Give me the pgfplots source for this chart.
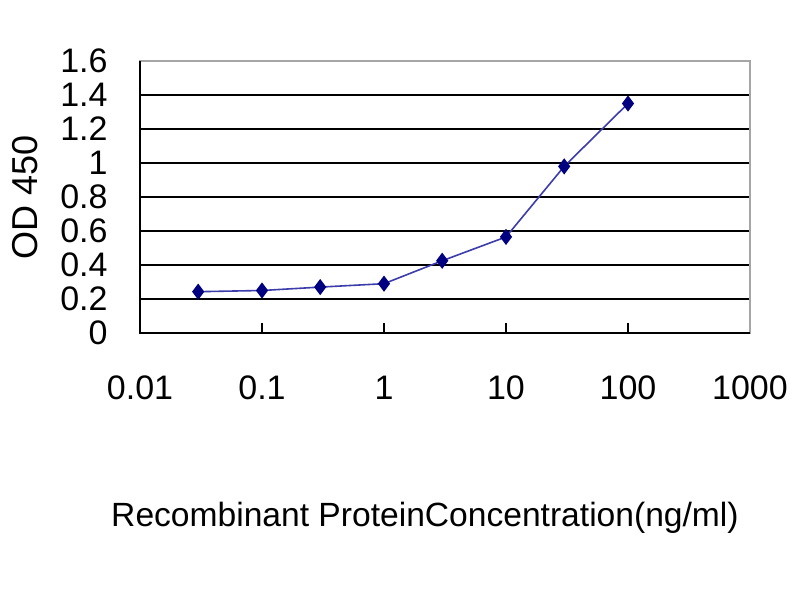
\documentclass[border=0pt]{standalone}
\usepackage{pgfplots}
\pgfplotsset{compat=1.18}
\usepackage{fontspec}
\setmainfont{Liberation Sans}
\definecolor{navyblue}{RGB}{0,0,128}
\definecolor{lineblue}{RGB}{60,60,170}
\begin{document}
\begin{tikzpicture}
\useasboundingbox (0,0) rectangle (400pt,300pt);
\begin{axis}[
  at={(70pt,133.5pt)}, anchor=south west,
  scale only axis, width=305pt, height=136pt,
  xmode=log, xmin=0.01, xmax=1000,
  ymin=0, ymax=1.6,
  xtick={0.01,0.1,1,10,100,1000},
  xticklabels={0.01,0.1,1,10,100,1000},
  ytick={0,0.2,...,1.6},
  yticklabels={0,0.2,0.4,0.6,0.8,1,1.2,1.4,1.6},
  xminorticks=false,
  tick pos=left,
  ymajorgrids, grid style={black, line width=1pt},
  axis line style={gray!70, line width=1pt},
  major tick length=5pt,
  xtick style={black, line width=1pt},
  ytick style={draw=none},
  /pgf/number format/assume math mode=true,
  ticklabel style={font=\fontsize{17}{17}\selectfont, inner sep=0pt},
  yticklabel style={anchor=east, xshift=-16pt},
  xticklabel style={anchor=center, yshift=-27.5pt},
  clip=false,
]
\addplot[lineblue, line width=0.8pt, mark=diamond*, mark size=3.4pt,
  mark options={navyblue, fill=navyblue}] coordinates {
  (0.03,0.243) (0.1,0.25) (0.3,0.27) (1,0.29)
  (3,0.425) (10,0.565) (30,0.98) (100,1.35)
};
\draw[gray!70, line width=1pt] (rel axis cs:0,1) -- (rel axis cs:1,1);
\draw[black, line width=1pt] (rel axis cs:0,1) -- (rel axis cs:0,0) -- (rel axis cs:1,0);
\end{axis}
\node[rotate=90, font=\fontsize{18}{18}\selectfont] at (12.5pt,201.5pt) {OD 450};
\node[font=\fontsize{16.8}{17}\selectfont] at (212.5pt,41pt) {Recombinant ProteinConcentration(ng/ml)};
\end{tikzpicture}
\end{document}
